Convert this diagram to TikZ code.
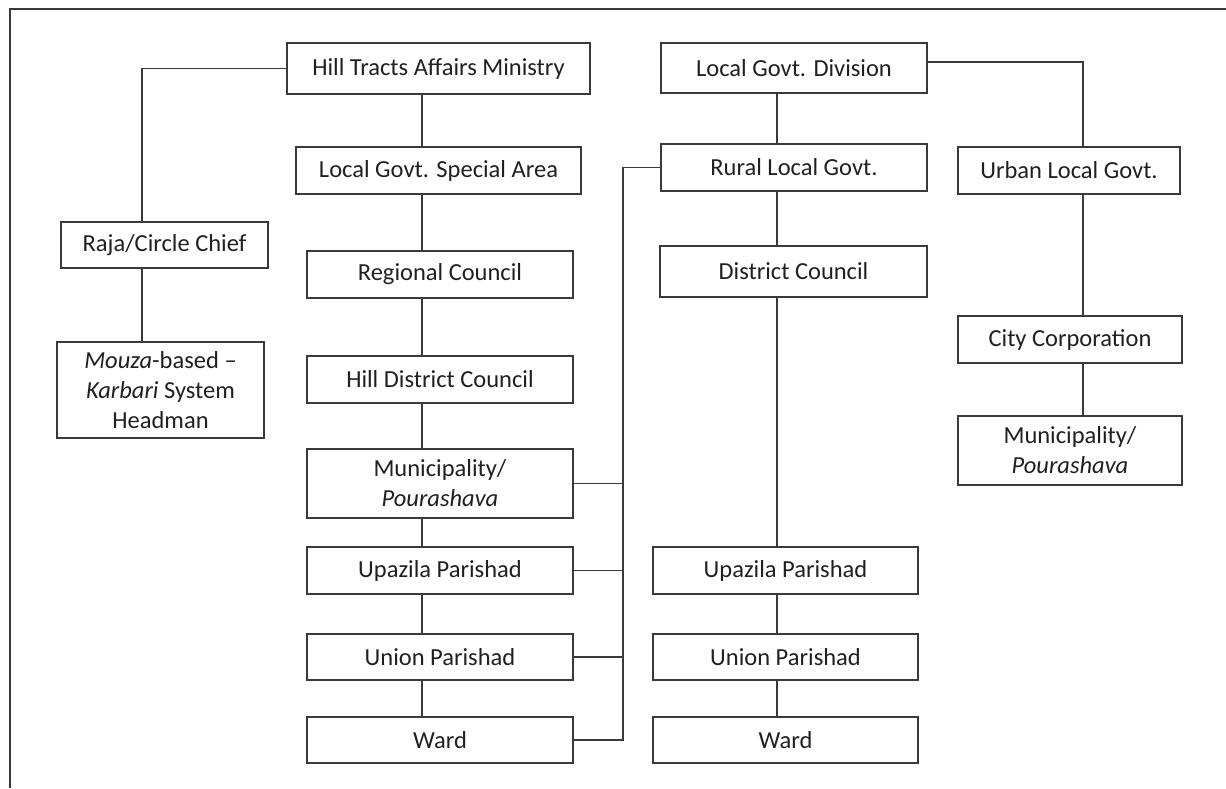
\documentclass[tikz,border=0pt]{standalone}
\usepackage{fontspec}
\setmainfont{Carlito}
\definecolor{ink}{HTML}{231F20}
\definecolor{rule}{HTML}{3A3A3A}
\begin{document}
\begin{tikzpicture}[x=1pt,y=-1pt,
  box/.style={draw=rule,line width=1.2pt,rectangle,inner sep=0pt,align=center,text=ink,
    font=\fontsize{24.5}{30}\selectfont},
  conn/.style={draw=rule,line width=1.2pt}]
\useasboundingbox (0,0) rectangle (1226,788);
\fill[white] (0,0) rectangle (1226,788);
% open frame
\draw[rule,line width=1.6pt] (10,788) -- (10,9) -- (1226,9);
% box helper
\newcommand{\bx}[6]{\node[box,minimum width={#4-#2},minimum height={#5-#3}] (#1) at ({(#2+#4)/2},{(#3+#5)/2}) {#6};}
% left column
\bx{htam}{287}{43}{590}{94}{Hill Tracts Affairs Ministry}
\bx{lgsa}{296}{147}{581}{194}{Local Govt. Special Area}
\bx{rc}{307}{251}{573}{298}{Regional Council}
\bx{hdc}{307}{356}{573}{403}{Hill District Council}
\bx{mun}{307}{449}{573}{518}{Municipality/\\\textit{Pourashava}}
\bx{up}{307}{547}{573}{594}{Upazila Parishad}
\bx{un}{307}{634}{573}{680}{Union Parishad}
\bx{ward}{307}{717}{573}{763}{Ward}
% far left
\bx{raja}{61}{222}{268}{268}{Raja/Circle Chief}
\bx{mouza}{57}{342}{264}{438}{\textit{Mouza}-based --\\\textit{Karbari} System\\Headman}
% middle column
\bx{lgd}{661}{43}{927}{93}{Local Govt. Division}
\bx{rlg}{661}{144}{927}{191}{Rural Local Govt.}
\bx{dc}{660}{246}{927}{297}{District Council}
\bx{uptwo}{653}{547}{918}{594}{Upazila Parishad}
\bx{untwo}{653}{634}{918}{680}{Union Parishad}
\bx{wardtwo}{653}{717}{918}{763}{Ward}
% right column
\bx{ulg}{958}{147}{1180}{194}{Urban Local Govt.}
\bx{cc}{958}{316}{1182}{363}{City Corporation}
\bx{muntwo}{958}{416}{1182}{485}{Municipality/\\\textit{Pourashava}}
% connector x positions
\coordinate (xa) at (142,0);
\coordinate (xb) at (422,0);
\coordinate (xc) at (623,0);
\coordinate (xd) at (777,0);
\coordinate (xe) at (1083,0);
% connectors left
\draw[conn] (htam.west) -| (raja.north -| xa);
\draw[conn] (raja.south -| xa) -- (mouza.north -| xa);
\draw[conn] (htam.south -| xb) -- (lgsa.north -| xb);
\draw[conn] (lgsa.south -| xb) -- (rc.north -| xb);
\draw[conn] (rc.south -| xb) -- (hdc.north -| xb);
\draw[conn] (hdc.south -| xb) -- (mun.north -| xb);
\draw[conn] (mun.south -| xb) -- (up.north -| xb);
\draw[conn] (up.south -| xb) -- (un.north -| xb);
\draw[conn] (un.south -| xb) -- (ward.north -| xb);
% bus
\draw[conn] (rlg.west) -| (ward.east -| xc) -- (ward.east);
\draw[conn] (mun.east) -- (mun.east -| xc);
\draw[conn] (up.east) -- (up.east -| xc);
\draw[conn] (un.east) -- (un.east -| xc);
% middle
\draw[conn] (lgd.south -| xd) -- (rlg.north -| xd);
\draw[conn] (rlg.south -| xd) -- (dc.north -| xd);
\draw[conn] (dc.south -| xd) -- (uptwo.north -| xd);
\draw[conn] (uptwo.south -| xd) -- (untwo.north -| xd);
\draw[conn] (untwo.south -| xd) -- (wardtwo.north -| xd);
% right
\draw[conn] ([yshift=6pt]lgd.east) -| (ulg.north -| xe);
\draw[conn] (ulg.south -| xe) -- (cc.north -| xe);
\draw[conn] (cc.south -| xe) -- (muntwo.north -| xe);
\end{tikzpicture}
\end{document}
